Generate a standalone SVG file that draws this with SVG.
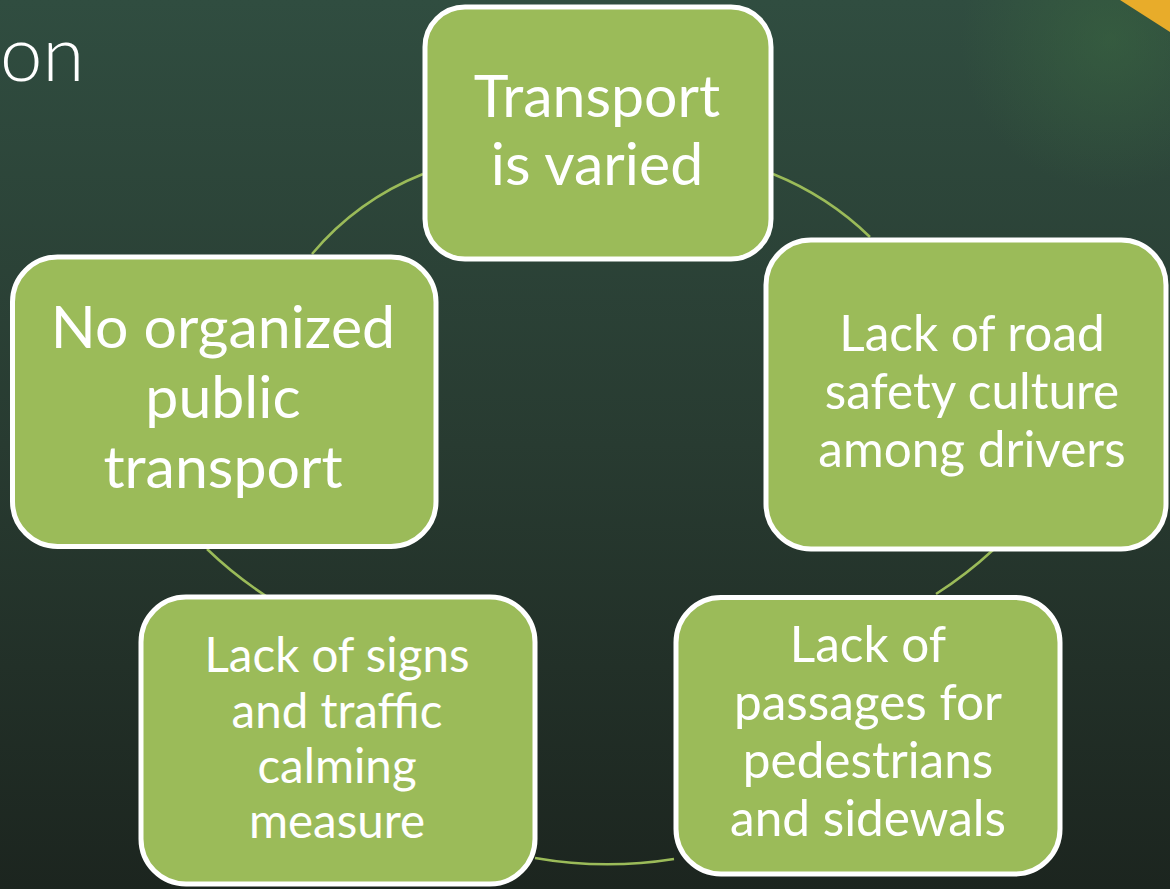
<svg xmlns="http://www.w3.org/2000/svg" width="1170" height="889" viewBox="0 0 1170 889">
  <defs>
    <linearGradient id="bg" x1="0" y1="0" x2="0" y2="1">
      <stop offset="0" stop-color="#304d40"/>
      <stop offset="0.5" stop-color="#283b31"/>
      <stop offset="1" stop-color="#1c251f"/>
    </linearGradient>
    <radialGradient id="glow" cx="1110" cy="40" r="150" gradientUnits="userSpaceOnUse">
      <stop offset="0" stop-color="#3b6a40" stop-opacity="0.5"/>
      <stop offset="1" stop-color="#3b6a40" stop-opacity="0"/>
    </radialGradient>
    <style>
      .node { fill: #9bbb59; stroke: #ffffff; stroke-width: 5; }
      .lbl { fill: #ffffff; font-family: Lato, "Liberation Sans", sans-serif; text-anchor: middle; }
      .conn { fill: none; stroke: #9bbb59; stroke-width: 2.5; }
    </style>
  </defs>
  <rect x="0" y="0" width="1170" height="889" fill="url(#bg)"/>
  <rect x="0" y="0" width="1170" height="889" fill="url(#glow)"/>
  <polygon points="1120,0 1170,0 1170,32" fill="#e8ac2a"/>
  <text x="0" y="81" font-family="Lato, 'Liberation Sans', sans-serif" font-weight="300" font-size="76" fill="#ffffff">on</text>

  <g id="connectors">
    <path class="conn" d="M773,174 A300,300 0 0 1 870,237"/>
    <path class="conn" d="M993,550 A400,400 0 0 1 936,594"/>
    <path class="conn" d="M674,859 A420,420 0 0 1 535,858"/>
    <path class="conn" d="M266,596 A400,400 0 0 1 207,549"/>
    <path class="conn" d="M312,254 A280,280 0 0 1 423,174"/>
  </g>

  <g id="node-transport">
    <rect class="node" x="425" y="7" width="346" height="252" rx="40"/>
    <text class="lbl" font-size="59" x="597" y="117">Transport</text>
    <text class="lbl" font-size="59" x="597" y="185">is varied</text>
  </g>

  <g id="node-road-safety">
    <rect class="node" x="766" y="240" width="400" height="309" rx="45"/>
    <text class="lbl" font-size="49.5" x="972" y="351">Lack of road</text>
    <text class="lbl" font-size="49.5" x="972" y="409">safety culture</text>
    <text class="lbl" font-size="49.5" x="972" y="467">among drivers</text>
  </g>

  <g id="node-passages">
    <rect class="node" x="676" y="597.5" width="384" height="276.5" rx="45"/>
    <text class="lbl" font-size="49.5" x="868" y="662">Lack of</text>
    <text class="lbl" font-size="49.5" x="868" y="720">passages for</text>
    <text class="lbl" font-size="49.5" x="868" y="778">pedestrians</text>
    <text class="lbl" font-size="49.5" x="868" y="836">and sidewals</text>
  </g>

  <g id="node-signs">
    <rect class="node" x="141" y="597" width="394" height="287" rx="45"/>
    <text class="lbl" font-size="47.5" x="337" y="672">Lack of signs</text>
    <text class="lbl" font-size="47.5" x="337" y="728">and traffic</text>
    <text class="lbl" font-size="47.5" x="337" y="783">calming</text>
    <text class="lbl" font-size="47.5" x="337" y="838">measure</text>
  </g>

  <g id="node-public-transport">
    <rect class="node" x="12.5" y="257" width="423.5" height="289.5" rx="45"/>
    <text class="lbl" font-size="59" x="223" y="348">No organized</text>
    <text class="lbl" font-size="59" x="223" y="418">public</text>
    <text class="lbl" font-size="59" x="223" y="488">transport</text>
  </g>
</svg>
